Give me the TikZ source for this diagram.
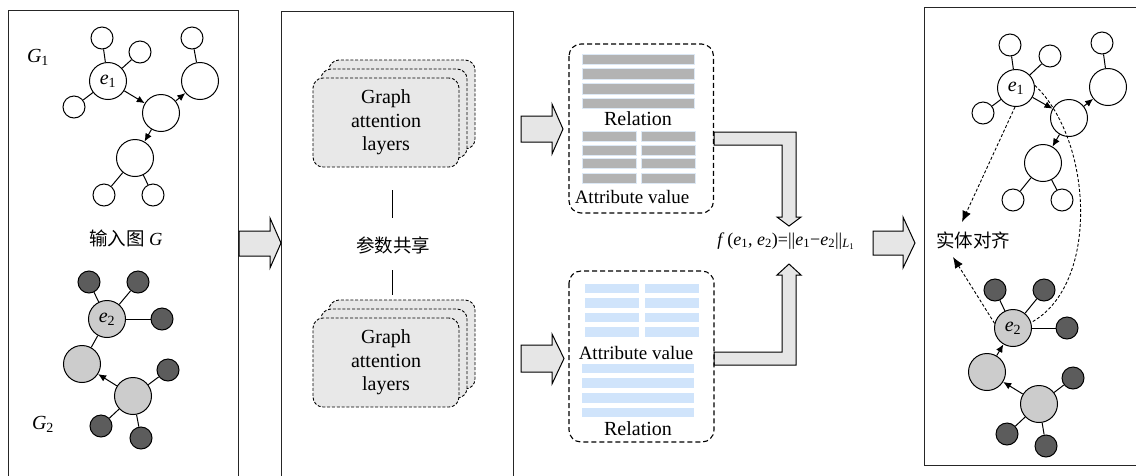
\documentclass[tikz,border=0pt]{standalone}
\usepackage{fontspec}
\setmainfont{Liberation Serif}
\newfontfamily\cjk{Noto Sans CJK SC}
\usetikzlibrary{arrows.meta}

\definecolor{darknode}{HTML}{5C5C5C}
\definecolor{lightnode}{HTML}{CCCCCC}
\definecolor{arrowfill}{HTML}{E6E6E6}
\definecolor{cardfill}{HTML}{E8E8E8}
\definecolor{bargray}{HTML}{B3B3B3}
\definecolor{barrim}{HTML}{DCE8F5}
\definecolor{barblue}{HTML}{D0E4FB}

\tikzset{
  panel/.style={draw=black!85, line width=0.9pt},
  sm/.style={circle, draw, line width=1pt, minimum size=22pt, inner sep=0pt, fill=white},
  bg/.style={circle, draw, line width=1pt, minimum size=37pt, inner sep=0pt, fill=white},
  dk/.style={sm, fill=darknode},
  lg/.style={bg, fill=lightnode},
  link/.style={line width=1pt},
  flow/.style={line width=1pt, -{Latex[length=8pt,width=7pt]}},
  matchline/.style={line width=0.9pt, dash pattern=on 3pt off 2pt},
  matcharrow/.style={matchline, -{Latex[length=11pt,width=9pt]}},
  fat/.style={draw, line width=1pt, fill=arrowfill, line join=miter},
  card/.style={draw, rounded corners=10pt, fill=cardfill, line width=0.9pt, dash pattern=on 3pt off 1.8pt},
  record/.style={draw, rounded corners=12pt, line width=1.1pt, dash pattern=on 5pt off 3pt},
  gbar/.style={fill=bargray, draw=barrim, line width=0.8pt},
  bbar/.style={fill=barblue, draw=white, line width=0.8pt},
  txt/.style={font=\fontsize{20}{23.5}\selectfont, inner sep=0pt},
  small/.style={font=\fontsize{19}{22}\selectfont, inner sep=0pt},
  cjktxt/.style={font=\cjk\fontsize{18.5}{22}\selectfont, inner sep=0pt},
}

\begin{document}
\begin{tikzpicture}[x=1pt, y=-1pt]
\clip (0,0) rectangle (1136,475);
\fill[white] (0,0) rectangle (1136,475);

% ---- panels ----
\draw[panel] (8,480) -- (8,10.5) -- (238,10.5) -- (238,480);
\draw[panel] (281,480) -- (281,11) -- (513,11) -- (513,480);
\draw[panel] (1140,7.5) -- (924,7.5) -- (924,465) -- (1140,465);

% ---- input graph G1 ----
\node[sm] (a1) at (102,38) {};
\node[sm] (a2) at (140,52) {};
\node[bg, txt] (ae1) at (108,81) {\textit{e}\textsubscript{1}};
\node[sm] (a3) at (74,107) {};
\node[bg] (am) at (161,113) {};
\node[bg] (ar) at (200,81) {};
\node[sm] (a4) at (192,38) {};
\node[bg] (al) at (135,158) {};
\node[sm] (a5) at (104,195) {};
\node[sm] (a6) at (153,195) {};
\draw[link] (ae1) -- (a1);
\draw[link] (ae1) -- (a2);
\draw[link] (ae1) -- (a3);
\draw[link] (ar) -- (a4);
\draw[link] (al) -- (a5);
\draw[link] (al) -- (a6);
\draw[flow] (ae1) -- (am);
\draw[flow] (am) -- (ar);
\draw[flow] (am) -- (al);
\node[txt] at (38,57) {\textit{G}\textsubscript{1}};
\node[cjktxt] at (126,238) {输入图 \fontspec{Liberation Serif}\textit{G}};

% ---- input graph G2 ----
\node[dk] (b1) at (89,282) {};
\node[dk] (b2) at (138,282) {};
\node[lg, txt] (be2) at (107,319) {\textit{e}\textsubscript{2}};
\node[dk] (b3) at (162,319) {};
\node[lg] (bl) at (82,364) {};
\node[lg] (bm) at (133,396) {};
\node[dk] (b4) at (168,370) {};
\node[dk] (b5) at (101,426) {};
\node[dk] (b6) at (141,438) {};
\draw[link] (be2) -- (b1);
\draw[link] (be2) -- (b2);
\draw[link] (be2) -- (b3);
\draw[link] (be2) -- (bl);
\draw[link] (bm) -- (b4);
\draw[link] (bm) -- (b5);
\draw[link] (bm) -- (b6);
\draw[flow] (bm) -- (bl);
\node[txt] at (43,424) {\textit{G}\textsubscript{2}};

% ---- block arrows ----
\draw[fat] (239,231) -- (270,231) -- (270,218) -- (281,243) -- (270,268) -- (270,256) -- (239,256) -- cycle;
\draw[fat] (521,116) -- (552,116) -- (552,104) -- (563,129) -- (552,154) -- (552,142) -- (521,142) -- cycle;
\draw[fat] (521,345) -- (552,345) -- (552,334) -- (564,358.5) -- (552,384) -- (552,372) -- (521,372) -- cycle;
\draw[fat] (873,231) -- (903,231) -- (903,217) -- (915,243) -- (903,268) -- (903,255) -- (873,255) -- cycle;
\draw[fat] (714,132) -- (796,132) -- (796,217) -- (801,217) -- (789,226) -- (777,217) -- (782,217) -- (782,145) -- (714,145) -- cycle;
\draw[fat] (714,365) -- (796,365) -- (796,275) -- (801,275) -- (789,264) -- (777,275) -- (782,275) -- (782,352) -- (714,352) -- cycle;

% ---- shared graph attention layers ----
\draw[card] (329,60) rectangle (475,149);
\draw[card] (321,69) rectangle (467,158);
\node[card, minimum width=146pt, minimum height=89pt, txt, align=center] (gat1) at (386,122.5) {Graph\\attention\\layers};
\draw[card] (329,300) rectangle (475,389);
\draw[card] (321,309) rectangle (467,398);
\node[card, minimum width=146pt, minimum height=89pt, txt, align=center] (gat2) at (386,362.5) {Graph\\attention\\layers};
\node[cjktxt] (share) at (393,245) {参数共享};
\coordinate (s1) at (392,190);
\coordinate (s2) at (392,218);
\coordinate (s3) at (392,270);
\coordinate (s4) at (392,295);
\draw[line width=1pt] (s1) -- (s2);
\draw[line width=1pt] (s3) -- (s4);

% ---- embedding records, upper ----
\draw[record] (569,44) rectangle (713.5,213);
\foreach \y in {54,68.5,83.5,98} \draw[gbar] (582,\y) rectangle (694,\y+10.5);
\foreach \y in {131,145,158.5,173} {
  \draw[gbar] (582,\y) rectangle (636,\y+10);
  \draw[gbar] (641,\y) rectangle (695,\y+10);
}
\node[txt] at (638,119) {Relation};
\node[small] at (632,197) {Attribute value};

% ---- embedding records, lower ----
\draw[record] (569,271) rectangle (714,442);
\foreach \y in {283,297.5,312,326.5} {
  \draw[bbar] (584,\y) rectangle (639,\y+10.5);
  \draw[bbar] (644,\y) rectangle (699,\y+10.5);
}
\foreach \y in {363,377.5,392.5,407} \draw[bbar] (581,\y) rectangle (694,\y+10.5);
\node[small] at (636,353) {Attribute value};
\node[txt] at (638,429) {Relation};

% ---- distance ----
\node[font=\fontsize{18}{22}\selectfont, inner sep=0pt] (dist) at (786,241)
  {\textit{f}\,(\textit{e}\textsubscript{1}, \textit{e}\textsubscript{2})=||\textit{e}\textsubscript{1}−\textit{e}\textsubscript{2}||\textsubscript{\textit{L}\textsubscript{1}}};

% ---- aligned graph G1 ----
\node[sm] (c1) at (1010,45) {};
\node[sm] (c2) at (1050,56) {};
\node[bg, txt] (ce1) at (1016,88) {\textit{e}\textsubscript{1}};
\node[sm] (c3) at (983,113) {};
\node[bg] (cm) at (1069,118) {};
\node[bg] (cr) at (1108,87) {};
\node[sm] (c4) at (1102,43) {};
\node[bg] (cl) at (1043,163) {};
\node[sm] (c5) at (1013,200) {};
\node[sm] (c6) at (1062,200) {};
\draw[link] (ce1) -- (c1);
\draw[link] (ce1) -- (c2);
\draw[link] (ce1) -- (c3);
\draw[link] (cr) -- (c4);
\draw[link] (cl) -- (c5);
\draw[link] (cl) -- (c6);
\draw[flow] (ce1) -- (cm);
\draw[flow] (cm) -- (cr);
\draw[flow] (cm) -- (cl);

% ---- aligned graph G2 ----
\node[dk] (d1) at (995,290) {};
\node[dk] (d2) at (1044,290) {};
\node[lg, txt] (de2) at (1013,328) {\textit{e}\textsubscript{2}};
\node[dk] (d3) at (1067,328) {};
\node[lg] (dl) at (987,372) {};
\node[dk] (d4) at (1073,378) {};
\node[lg] (dm) at (1039,404) {};
\node[dk] (d5) at (1007,434) {};
\node[dk] (d6) at (1046,446) {};
\draw[link] (de2) -- (d1);
\draw[link] (de2) -- (d2);
\draw[link] (de2) -- (d3);
\draw[link] (dm) -- (d4);
\draw[link] (dm) -- (d5);
\draw[link] (dm) -- (d6);
\draw[flow] (dl) -- (de2);
\draw[flow] (dm) -- (dl);

% ---- entity alignment ----
\node[cjktxt] (alignlbl) at (973,240) {实体对齐};
\coordinate (t1) at (962,222);
\coordinate (t2) at (953,257);
\draw[matcharrow] (ce1.267) -- (t1);
\draw[matcharrow] (de2.166) -- (t2);
\draw[matchline] (ce1.8) .. controls (1093,140) and (1100,285) .. (de2.17);
\end{tikzpicture}
\end{document}
